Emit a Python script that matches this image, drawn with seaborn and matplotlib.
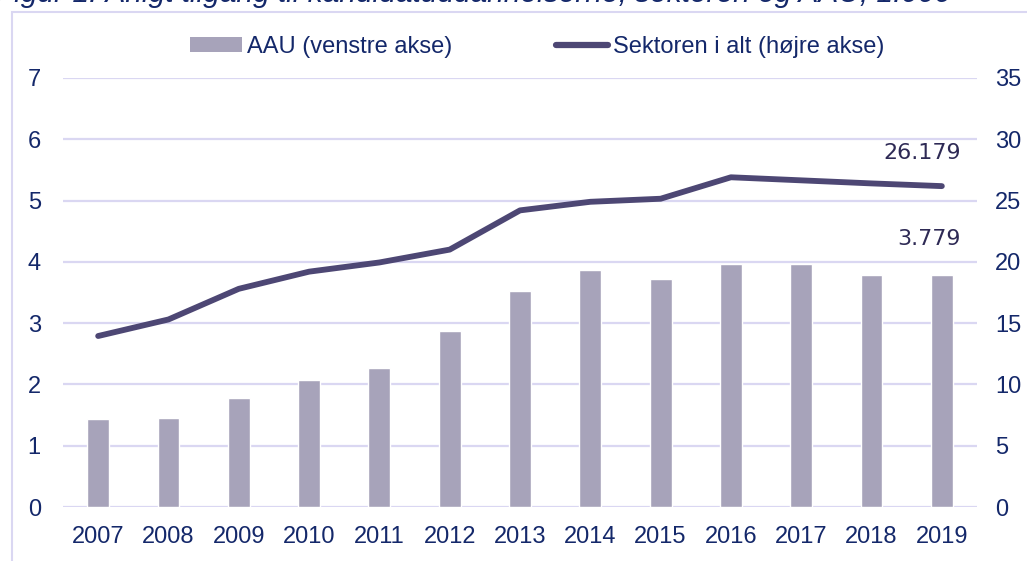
import matplotlib
matplotlib.use("Agg")
import matplotlib.pyplot as plt
from matplotlib.lines import Line2D
from matplotlib.patches import Patch, Rectangle
import pandas as pd
import seaborn as sns

# Data (1.000 studerende)
years = ["2007", "2008", "2009", "2010", "2011", "2012", "2013",
         "2014", "2015", "2016", "2017", "2018", "2019"]
aau = [1.43, 1.46, 1.78, 2.08, 2.27, 2.87, 3.52,
       3.86, 3.72, 3.96, 3.97, 3.79, 3.779]
sektor = [13.95, 15.3, 17.8, 19.2, 19.95, 21.0, 24.2,
          24.9, 25.15, 26.9, 26.65, 26.4, 26.179]
left_ticks = [0, 1, 2, 3, 4, 5, 6, 7]
right_ticks = [0, 5, 10, 15, 20, 25, 30, 35]

title = "Figur 1. Årligt tilgang til kandidatuddannelserne, sektoren og AAU, 1.000"

BAR_COLOR = "#A7A3BA"
LINE_COLOR = "#4D4774"
TEXT_COLOR = "#14286A"
GRID_COLOR = "#DAD7F2"
LABEL_COLOR = "#2E2A55"

df = pd.DataFrame({"year": years, "aau": aau, "sektor": sektor})

sns.set_theme(style="white")
plt.rcParams["font.family"] = ["Liberation Sans", "DejaVu Sans"]

fig = plt.figure(figsize=(10.27, 5.61), dpi=100)
ax = fig.add_axes([63 / 1027, 1 - 507 / 561, 914 / 1027, 429 / 561])

# frame around the chart
fig.patches.append(Rectangle((11.5 / 1027, -0.1), 1.2, 1 - 12 / 561 + 0.1,
                             transform=fig.transFigure, fill=False,
                             edgecolor=GRID_COLOR, linewidth=1.5, zorder=0))
# title, cut off by the top edge as in the source
fig.text(-0.004, 1 + 8 / 561, title, ha="left", va="center", fontsize=21.5,
         style="italic", color=TEXT_COLOR)

sns.barplot(data=df, x="year", y="aau", ax=ax, color=BAR_COLOR,
            width=0.31, saturation=1, zorder=2)
ax.set_ylim(0, 7)
ax.set_xlim(-0.5, len(years) - 0.5)
ax.set_yticks(left_ticks)
for t in left_ticks:
    ax.axhline(t, color=GRID_COLOR, linewidth=1.6, zorder=1)

ax2 = ax.twinx()
sns.lineplot(x=df.index, y=df["sektor"], ax=ax2, color=LINE_COLOR,
             linewidth=4.2, solid_capstyle="round", zorder=3)
ax2.set_ylim(0, 35)
ax2.set_yticks(right_ticks)

for a in (ax, ax2):
    for s in a.spines.values():
        s.set_visible(False)
    a.set_xlabel("")
    a.set_ylabel("")
    a.tick_params(length=0, labelsize=17, colors=TEXT_COLOR)
    a.grid(False)
ax.tick_params(axis="y", pad=16)
ax.tick_params(axis="x", pad=14)
ax2.tick_params(axis="y", pad=13)

# value labels for the last year
last = len(years) - 1
ax.annotate(f"{aau[-1]:.3f}", (last + 0.27, aau[-1]),
            xytext=(0, 26), textcoords="offset points", ha="right", va="center",
            fontsize=16, color=LABEL_COLOR, family="DejaVu Sans")
ax2.annotate(f"{sektor[-1]:.3f}", (last + 0.27, sektor[-1]),
             xytext=(0, 24), textcoords="offset points", ha="right", va="center",
             fontsize=16, color=LABEL_COLOR, family="DejaVu Sans")

handles = [Patch(facecolor=BAR_COLOR, edgecolor="none"),
           Line2D([0], [0], color=LINE_COLOR, linewidth=4.5, solid_capstyle="round")]
fig.legend(handles, ["AAU (venstre akse)", "Sektoren i alt (højre akse)"],
           loc="center", bbox_to_anchor=(537 / 1027, 1 - 47 / 561), ncol=2,
           frameon=False, fontsize=17, labelcolor=TEXT_COLOR,
           handlelength=2.2, handletextpad=0.2, columnspacing=4.4,
           handleheight=0.6)

fig.savefig("out.png", dpi=100)
